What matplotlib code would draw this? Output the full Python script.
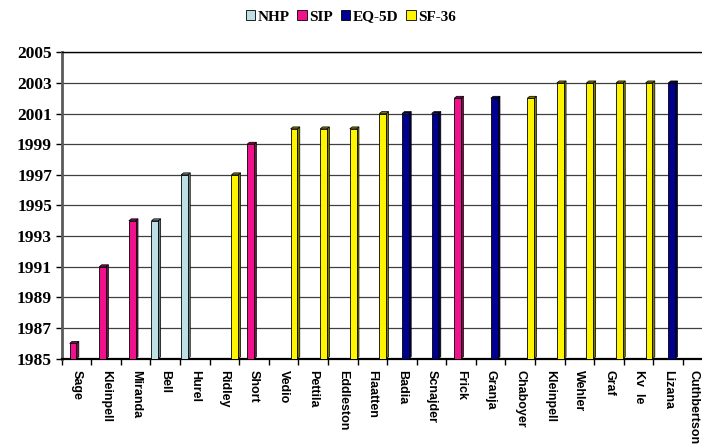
import numpy as np
import matplotlib
matplotlib.use("Agg")
import matplotlib.pyplot as plt
import matplotlib.transforms as mtransforms
from matplotlib.patches import Patch

# studies in order of publication year
authors = ["Sage", "Kleinpell", "Miranda", "Bell", "Hurel", "Ridley", "Short",
           "Vedio", "Pettila", "Eddleston", "Flaatten", "Badia", "Scnajder",
           "Frick", "Granja", "Chaboyer", "Kleinpell", "Wehler", "Graf",
           "Kv  le", "Lizana", "Cuthbertson"]

series_names = ["NHP", "SIP", "EQ-5D", "SF-36"]

# publication year per study, one list per instrument (None = not used)
nhp = [None, None, None, 1994, 1997, None, None, None, None, None, None,
       None, None, None, None, None, None, None, None, None, None, None]
sip = [1986, 1991, 1994, None, None, None, 1999, None, None, None, None,
       None, None, 2002, None, None, None, None, None, None, None, None]
eq5d = [None, None, None, None, None, None, None, None, None, None, None,
        2001, 2001, None, 2002, None, None, None, None, None, 2003, None]
sf36 = [None, None, None, None, None, 1997, None, 2000, 2000, 2000, 2001,
        None, None, None, None, 2002, 2003, 2003, 2003, 2003, None, None]

year_ticks = list(range(1985, 2006, 2))

face_colors = ["#BEDFE3", "#F0128C", "#000090", "#FFF500"]
side_colors = ["#667a7c", "#7a0a48", "#00004a", "#7d7800"]

base = 1985
bar_w = 0.23
dx, dy = 0.08, 0.13   # depth of the pseudo-3D sides

fig = plt.figure(figsize=(7.02, 4.46), dpi=100)
ax = fig.add_axes([61.7 / 702, 1 - 358.7 / 446, 650.9 / 702, 306.4 / 446])

for k, vals in enumerate([nhp, sip, eq5d, sf36]):
    for i, v in enumerate(vals):
        if v is None:
            continue
        x0 = i + 0.035 + k * 0.234
        ax.bar(x0, v - base, bottom=base, width=bar_w, align="edge",
               color=face_colors[k], edgecolor="black", linewidth=0.6, zorder=3)
        # right side face
        ax.fill([x0 + bar_w, x0 + bar_w + dx, x0 + bar_w + dx, x0 + bar_w],
                [base, base + dy, v + dy, v],
                color=side_colors[k], ec="black", lw=0.5, zorder=2.9)
        # top face
        ax.fill([x0, x0 + dx, x0 + bar_w + dx, x0 + bar_w],
                [v, v + dy, v + dy, v],
                color=side_colors[k], ec="black", lw=0.5, zorder=2.9)

ax.set_xlim(0, len(authors))
ax.set_ylim(1985, 2005)

ax.set_yticks(year_ticks)
ax.set_yticklabels([str(y) for y in year_ticks], fontfamily="Liberation Serif",
                   fontweight="bold", fontsize=12.5)
ax.tick_params(axis="y", length=4, width=1, pad=3)

ax.set_xticks(np.arange(len(authors)) + 0.5)
ax.set_xticklabels(authors, rotation=270, fontfamily="Liberation Sans",
                   fontweight="bold", fontsize=9, va="top", ha="center")
ax.set_xticks(np.arange(len(authors) + 1), minor=True)
ax.tick_params(axis="x", which="major", length=0, pad=8)
ax.tick_params(axis="x", which="minor", length=4, width=1)

# nudge the last label left so it stays inside the figure
last = ax.get_xticklabels()[-1]
last.set_transform(last.get_transform() +
                   mtransforms.ScaledTranslation(-3 / 72, 0, fig.dpi_scale_trans))

ax.yaxis.grid(True, color="#404040", linewidth=0.9, zorder=0)
ax.set_axisbelow(True)

ax.spines["right"].set_visible(False)
ax.spines["top"].set_linewidth(1)
ax.spines["bottom"].set_linewidth(1.6)
ax.spines["left"].set_color("#5a5a5a")
ax.spines["left"].set_linewidth(2)

handles = [Patch(facecolor=c, edgecolor="black", linewidth=0.6) for c in face_colors]
fig.legend(handles, series_names, loc="center", bbox_to_anchor=(0.5, 1 - 17 / 446),
           ncol=4, frameon=False, handlelength=0.6, handleheight=0.6,
           handletextpad=0.2, columnspacing=0.5,
           prop={"family": "Liberation Serif", "weight": "bold", "size": 11})

fig.savefig("out.png", dpi=100)
